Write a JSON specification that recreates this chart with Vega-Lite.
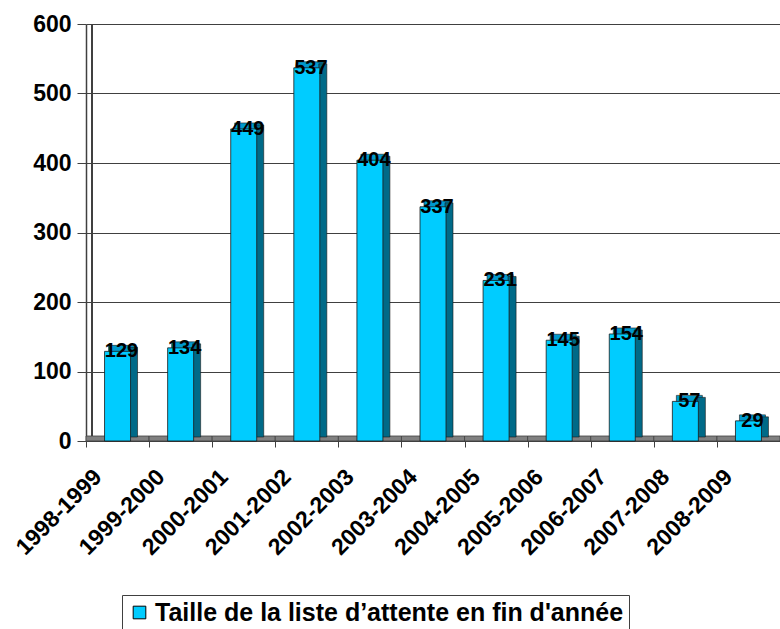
{
  "$schema": "https://vega.github.io/schema/vega-lite/v6.json",
  "width": 694,
  "height": 417,
  "autosize": "none",
  "padding": {"left": 86, "top": 24, "right": 0, "bottom": 188},
  "background": "white",
  "config": {"view": {"stroke": null}, "font": "Liberation Sans"},
  "data": {"values": [
    {"periode": "1998-1999", "valeur": 129, "serie": "Taille de la liste d’attente en fin d'année"},
    {"periode": "1999-2000", "valeur": 134, "serie": "Taille de la liste d’attente en fin d'année"},
    {"periode": "2000-2001", "valeur": 449, "serie": "Taille de la liste d’attente en fin d'année"},
    {"periode": "2001-2002", "valeur": 537, "serie": "Taille de la liste d’attente en fin d'année"},
    {"periode": "2002-2003", "valeur": 404, "serie": "Taille de la liste d’attente en fin d'année"},
    {"periode": "2003-2004", "valeur": 337, "serie": "Taille de la liste d’attente en fin d'année"},
    {"periode": "2004-2005", "valeur": 231, "serie": "Taille de la liste d’attente en fin d'année"},
    {"periode": "2005-2006", "valeur": 145, "serie": "Taille de la liste d’attente en fin d'année"},
    {"periode": "2006-2007", "valeur": 154, "serie": "Taille de la liste d’attente en fin d'année"},
    {"periode": "2007-2008", "valeur": 57, "serie": "Taille de la liste d’attente en fin d'année"},
    {"periode": "2008-2009", "valeur": 29, "serie": "Taille de la liste d’attente en fin d'année"}
  ]},
  "encoding": {
    "x": {"field": "periode", "type": "nominal", "sort": null,
      "scale": {"paddingInner": 0, "paddingOuter": 0},
      "axis": {"title": null, "labelAngle": -45, "labelAlign": "right", "labelBaseline": "middle",
        "labelFont": "Liberation Sans", "labelFontSize": 23, "labelFontWeight": "bold", "labelColor": "black",
        "labelPadding": 26, "labelOffset": -20, "tickBand": "extent", "tickColor": "#404040", "tickSize": 6,
        "domain": false, "grid": false}}
  },
  "layer": [
    {
      "mark": {"type": "rule", "color": "#404040", "strokeWidth": 1.5},
      "encoding": {"x": {"value": 6}, "y": {"datum": 0, "type": "quantitative"}, "y2": {"datum": 600}}
    },
    {
      "mark": {"type": "bar", "color": "#808080", "stroke": "#404040", "strokeWidth": 0.8, "height": 5, "yOffset": -2.5, "width": {"band": 1}},
      "encoding": {"y": {"datum": 0, "type": "quantitative"}}
    },
    {
      "mark": {"type": "bar", "color": "#0099CC", "stroke": "#1a1a1a", "strokeWidth": 0.6, "width": 26, "xOffset": 4, "yOffset": -6, "y2Offset": -6},
      "encoding": {"y": {"field": "valeur", "type": "quantitative"}, "y2": {"datum": 0}}
    },
    {
      "mark": {"type": "bar", "color": "#006A88", "stroke": "#1a1a1a", "strokeWidth": 0.6, "width": 8, "xOffset": 16, "yOffset": -4, "y2Offset": -4},
      "encoding": {"y": {"field": "valeur", "type": "quantitative"}, "y2": {"datum": 0}}
    },
    {
      "mark": {"type": "bar", "stroke": "#1a1a1a", "strokeWidth": 0.8, "width": 26, "xOffset": 0},
      "encoding": {
        "y": {"field": "valeur", "type": "quantitative",
          "scale": {"domain": [0, 600]},
          "axis": {"title": null, "values": [0, 100, 200, 300, 400, 500, 600], "labelFont": "Liberation Sans",
            "labelFontSize": 23, "labelFontWeight": "bold", "labelColor": "black", "labelPadding": 6,
            "tickColor": "#404040", "tickSize": 9, "domainColor": "#404040", "domainWidth": 1.5,
            "grid": true, "gridColor": "#404040", "gridWidth": 1, "gridDash": [], "offset": 0}},
        "fill": {"field": "serie", "type": "nominal", "scale": {"range": ["#00CCFF"]},
          "legend": {"title": null, "orient": "none", "legendX": 36, "legendY": 571, "symbolType": "square",
            "symbolSize": 160, "symbolStrokeColor": "black", "symbolStrokeWidth": 1, "labelFont": "Liberation Sans",
            "labelFontSize": 25, "labelFontWeight": "bold", "labelColor": "black", "labelLimit": 700,
            "strokeColor": "#404040", "padding": 5, "labelOffset": 3, "fillColor": "white"}}
      }
    },
    {
      "mark": {"type": "text", "font": "Liberation Sans", "fontSize": 20, "fontWeight": "bold", "color": "black", "baseline": "alphabetic", "dy": 6, "dx": 4},
      "encoding": {"y": {"field": "valeur", "type": "quantitative"}, "text": {"field": "valeur", "type": "quantitative"}}
    }
  ]
}
